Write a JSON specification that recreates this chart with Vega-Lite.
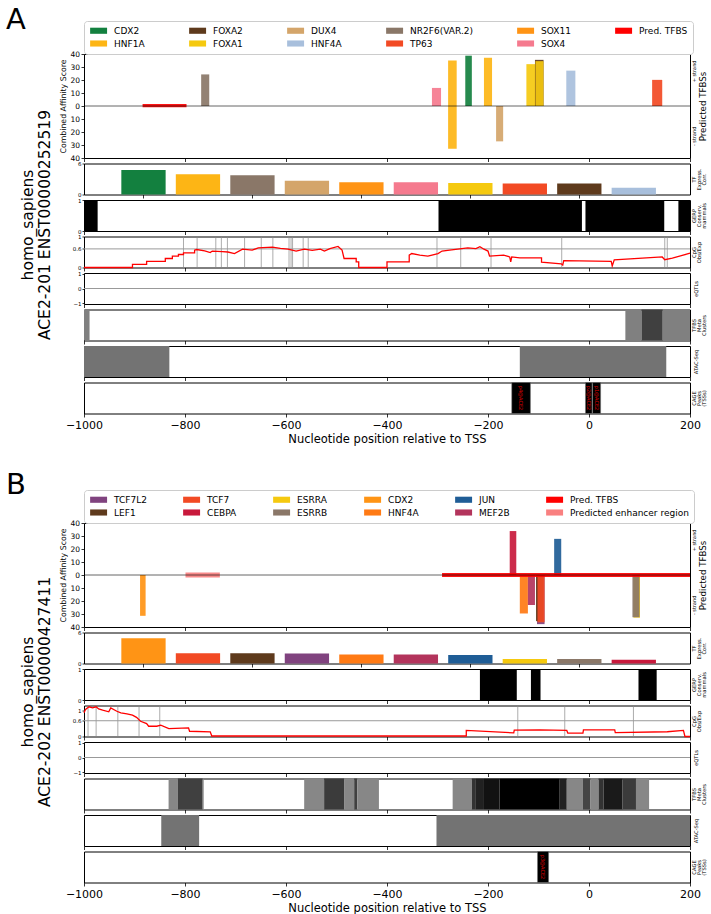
{
"$schema": "https://vega.github.io/schema/vega-lite/v6.json",
"padding": {"left": 5, "top": 5, "right": 2, "bottom": 2},
"config": {
  "font": "DejaVu Sans",
  "view": {"stroke": "black", "strokeWidth": 1},
  "axis": {"domain": false, "grid": false, "tickColor": "black", "tickWidth": 0.8, "labelColor": "black", "titleColor": "black", "titleFontWeight": "normal", "labelFlush": false, "labelOverlap": false},
  "title": {"fontWeight": "normal", "color": "black"}
},
"datasets": {
  "tfbsA": [
    {"tf": "Pred. TFBS", "start": -884, "end": -797, "lo": -1, "hi": 1.5},
    {"tf": "NR2F6(VAR.2)", "start": -768, "end": -752, "lo": 0, "hi": 24.3},
    {"tf": "SOX4", "start": -311, "end": -293, "lo": 0, "hi": 13.9},
    {"tf": "HNF1A", "start": -279, "end": -262, "lo": 0, "hi": 35.0},
    {"tf": "HNF1A", "start": -279, "end": -262, "lo": -32.9, "hi": 0},
    {"tf": "CDX2", "start": -245, "end": -232, "lo": 0, "hi": 38.7},
    {"tf": "HNF1A", "start": -208, "end": -192, "lo": 0, "hi": 37.1},
    {"tf": "DUX4", "start": -184, "end": -170, "lo": -27.2, "hi": 0},
    {"tf": "FOXA1", "start": -124, "end": -106, "lo": 0, "hi": 32.2},
    {"tf": "FOXA2", "start": -107, "end": -90, "lo": 0, "hi": 35.5},
    {"tf": "FOXA1", "start": -106, "end": -90, "lo": 0, "hi": 34.5},
    {"tf": "HNF4A", "start": -45, "end": -27, "lo": 0, "hi": 27.2},
    {"tf": "TP63", "start": 125, "end": 145, "lo": 0, "hi": 20.1}
  ],
  "exprA": [
    {"tf": "CDX2", "rank": 0, "corr": 4.76},
    {"tf": "HNF1A", "rank": 1, "corr": 3.92},
    {"tf": "NR2F6(VAR.2)", "rank": 2, "corr": 3.72},
    {"tf": "DUX4", "rank": 3, "corr": 2.67},
    {"tf": "SOX11", "rank": 4, "corr": 2.35},
    {"tf": "SOX4", "rank": 5, "corr": 2.35},
    {"tf": "FOXA1", "rank": 6, "corr": 2.22},
    {"tf": "TP63", "rank": 7, "corr": 2.15},
    {"tf": "FOXA2", "rank": 8, "corr": 2.15},
    {"tf": "HNF4A", "rank": 9, "corr": 1.3}
  ],
  "gerpA": [
    {"start": -1000, "end": -973}, {"start": -298, "end": -14}, {"start": -7, "end": 149}, {"start": 177, "end": 200}
  ],
  "cpgA": [
    {"pos": -1000, "v": 0}, {"pos": -904, "v": 0}, {"pos": -904, "v": 0.10}, {"pos": -876, "v": 0.10}, {"pos": -876, "v": 0.20},
    {"pos": -839, "v": 0.20}, {"pos": -839, "v": 0.29}, {"pos": -825, "v": 0.29}, {"pos": -825, "v": 0.37}, {"pos": -813, "v": 0.37},
    {"pos": -813, "v": 0.42}, {"pos": -803, "v": 0.42}, {"pos": -803, "v": 0.47}, {"pos": -781, "v": 0.47}, {"pos": -781, "v": 0.56},
    {"pos": -777, "v": 0.58}, {"pos": -761, "v": 0.54}, {"pos": -750, "v": 0.48}, {"pos": -746, "v": 0.53}, {"pos": -726, "v": 0.51},
    {"pos": -715, "v": 0.50}, {"pos": -702, "v": 0.45}, {"pos": -686, "v": 0.59}, {"pos": -667, "v": 0.56}, {"pos": -655, "v": 0.63},
    {"pos": -627, "v": 0.66}, {"pos": -611, "v": 0.62}, {"pos": -596, "v": 0.59}, {"pos": -580, "v": 0.53}, {"pos": -564, "v": 0.59},
    {"pos": -548, "v": 0.55}, {"pos": -532, "v": 0.59}, {"pos": -524, "v": 0.53}, {"pos": -513, "v": 0.61}, {"pos": -497, "v": 0.68},
    {"pos": -489, "v": 0.56}, {"pos": -485, "v": 0.29}, {"pos": -461, "v": 0.29}, {"pos": -461, "v": 0.18}, {"pos": -456, "v": 0.18},
    {"pos": -456, "v": 0}, {"pos": -400, "v": 0}, {"pos": -400, "v": 0.18}, {"pos": -356, "v": 0.18}, {"pos": -356, "v": 0.40},
    {"pos": -351, "v": 0.45}, {"pos": -335, "v": 0.40}, {"pos": -319, "v": 0.37}, {"pos": -299, "v": 0.45}, {"pos": -291, "v": 0.53},
    {"pos": -276, "v": 0.56}, {"pos": -260, "v": 0.59}, {"pos": -240, "v": 0.63}, {"pos": -224, "v": 0.61}, {"pos": -216, "v": 0.67},
    {"pos": -208, "v": 0.59}, {"pos": -200, "v": 0.53}, {"pos": -197, "v": 0.37}, {"pos": -169, "v": 0.40}, {"pos": -157, "v": 0.34},
    {"pos": -155, "v": 0.18}, {"pos": -153, "v": 0.34}, {"pos": -137, "v": 0.31}, {"pos": -94, "v": 0.31}, {"pos": -94, "v": 0.17},
    {"pos": -55, "v": 0.12}, {"pos": -52, "v": 0.08}, {"pos": -50, "v": 0.22}, {"pos": 44, "v": 0.20}, {"pos": 46, "v": 0.05},
    {"pos": 50, "v": 0.25}, {"pos": 145, "v": 0.34}, {"pos": 150, "v": 0.25}, {"pos": 165, "v": 0.30}, {"pos": 200, "v": 0.46}
  ],
  "cpgLinesA": [
    {"pos": -803}, {"pos": -776}, {"pos": -739}, {"pos": -728}, {"pos": -716}, {"pos": -682}, {"pos": -649}, {"pos": -626},
    {"pos": -594}, {"pos": -590}, {"pos": -587}, {"pos": -566}, {"pos": -556}, {"pos": -301}, {"pos": -254}, {"pos": -194},
    {"pos": -54}, {"pos": 150}, {"pos": 155}
  ],
  "metaA": [
    {"start": -1000, "end": -989, "density": 0.5}, {"start": 72, "end": 104, "density": 0.5},
    {"start": 104, "end": 146, "density": 0.75}, {"start": 146, "end": 200, "density": 0.5}
  ],
  "atacA": [{"start": -1000, "end": -831}, {"start": -137, "end": 153}],
  "cageA": [
    {"start": -153, "end": -116, "mid": -134.5, "label": "p4@ACE2"},
    {"start": -7, "end": 6, "mid": -0.5, "label": "p2@ACE2"},
    {"start": 7, "end": 23, "mid": 15, "label": "p1@ACE2"}
  ],
  "tfbsB": [
    {"tf": "CDX2", "start": -889, "end": -878, "lo": -31.4, "hi": 0},
    {"tf": "Predicted enhancer region", "start": -799, "end": -731, "lo": -2, "hi": 2},
    {"tf": "CEBPA", "start": -157, "end": -144, "lo": 0, "hi": 33.8},
    {"tf": "JUN", "start": -69, "end": -55, "lo": 0, "hi": 27.8},
    {"tf": "HNF4A", "start": -137, "end": -121, "lo": -29.6, "hi": 0},
    {"tf": "MEF2B", "start": -121, "end": -107, "lo": -23.1, "hi": 0},
    {"tf": "TCF7L2", "start": -103, "end": -88, "lo": -37.8, "hi": 0},
    {"tf": "LEF1", "start": -105, "end": -91, "lo": -35.5, "hi": 0},
    {"tf": "TCF7", "start": -102, "end": -88, "lo": -36.4, "hi": 0},
    {"tf": "ESRRA", "start": 88, "end": 101, "lo": -32.8, "hi": 0},
    {"tf": "ESRRB", "start": 86, "end": 100, "lo": -32.5, "hi": 0},
    {"tf": "Pred. TFBS", "start": -291, "end": 200, "lo": -1.5, "hi": 1.5}
  ],
  "exprB": [
    {"tf": "CDX2", "rank": 0, "corr": 4.9},
    {"tf": "TCF7", "rank": 1, "corr": 2.0},
    {"tf": "LEF1", "rank": 2, "corr": 2.0},
    {"tf": "TCF7L2", "rank": 3, "corr": 1.95},
    {"tf": "HNF4A", "rank": 4, "corr": 1.75},
    {"tf": "MEF2B", "rank": 5, "corr": 1.75},
    {"tf": "JUN", "rank": 6, "corr": 1.63},
    {"tf": "ESRRA", "rank": 7, "corr": 0.88},
    {"tf": "ESRRB", "rank": 8, "corr": 0.88},
    {"tf": "CEBPA", "rank": 9, "corr": 0.75}
  ],
  "gerpB": [{"start": -216, "end": -143}, {"start": -115, "end": -96}, {"start": 98, "end": 134}],
  "cpgB": [
    {"pos": -1000, "v": 0.90}, {"pos": -997, "v": 1.03}, {"pos": -990, "v": 1.13}, {"pos": -983, "v": 1.09}, {"pos": -976, "v": 1.13},
    {"pos": -971, "v": 1.05}, {"pos": -963, "v": 1.0}, {"pos": -951, "v": 0.94}, {"pos": -947, "v": 1.09}, {"pos": -935, "v": 0.96},
    {"pos": -927, "v": 0.90}, {"pos": -915, "v": 0.86}, {"pos": -904, "v": 0.81}, {"pos": -896, "v": 0.73}, {"pos": -888, "v": 0.58},
    {"pos": -876, "v": 0.49}, {"pos": -872, "v": 0.39}, {"pos": -856, "v": 0.39}, {"pos": -848, "v": 0.43}, {"pos": -832, "v": 0.30},
    {"pos": -793, "v": 0.33}, {"pos": -791, "v": 0.20}, {"pos": -750, "v": 0.18}, {"pos": -747, "v": 0.02}, {"pos": -243, "v": 0.02},
    {"pos": -243, "v": 0.23}, {"pos": -149, "v": 0.14}, {"pos": -148, "v": 0.24}, {"pos": -98, "v": 0.25}, {"pos": -44, "v": 0.23},
    {"pos": -42, "v": 0.13}, {"pos": -12, "v": 0.13}, {"pos": -11, "v": 0.25}, {"pos": 51, "v": 0.25}, {"pos": 52, "v": 0.15},
    {"pos": 155, "v": 0.18}, {"pos": 187, "v": 0.23}, {"pos": 190, "v": 0}, {"pos": 200, "v": 0}
  ],
  "cpgLinesB": [
    {"pos": -992}, {"pos": -976}, {"pos": -933}, {"pos": -891}, {"pos": -850}, {"pos": -141}, {"pos": -48}, {"pos": 88}
  ],
  "metaB": [
    {"start": -832.5, "end": -814, "density": 0.47}, {"start": -814, "end": -765, "density": 0.75}, {"start": -765, "end": -763, "density": 0.47},
    {"start": -564, "end": -524.5, "density": 0.47}, {"start": -524.5, "end": -485, "density": 0.77}, {"start": -485, "end": -465, "density": 0.47},
    {"start": -465, "end": -459, "density": 0.75}, {"start": -459, "end": -416, "density": 0.47},
    {"start": -270, "end": -232, "density": 0.47}, {"start": -232, "end": -224, "density": 0.8}, {"start": -224, "end": -208, "density": 0.87},
    {"start": -208, "end": -177, "density": 0.93}, {"start": -177, "end": -58, "density": 1.0}, {"start": -58, "end": -44, "density": 0.87},
    {"start": -44, "end": -12, "density": 0.47}, {"start": -12, "end": 3, "density": 0.73}, {"start": 3, "end": 19, "density": 0.47},
    {"start": 19, "end": 28.6, "density": 0.8}, {"start": 28.6, "end": 66.5, "density": 0.9}, {"start": 66.5, "end": 93, "density": 0.77},
    {"start": 93, "end": 119, "density": 0.47}
  ],
  "atacB": [{"start": -847, "end": -772}, {"start": -302, "end": 200}],
  "cageB": [{"start": -102, "end": -80, "mid": -91, "label": "p3@ACE2"}]
},
"spacing": 25,
"bounds": "full",
"resolve": {"scale": {"color": "independent", "x": "independent", "y": "independent"}, "legend": {"color": "independent"}},
"vconcat": [
{
  "title": {"text": ["homo_sapiens", "ACE2-201 ENST00000252519"], "orient": "left", "anchor": "middle", "fontSize": 15.5, "lineHeight": 17, "offset": -48},
  "spacing": 5.5,
  "bounds": "flush",
  "resolve": {"scale": {"color": "independent", "x": "independent", "y": "independent"}, "legend": {"color": "independent"}},
  "vconcat": [
    {
      "width": 606, "height": 104,
      "title": {"text": "A", "anchor": "start", "frame": "group", "fontSize": 29, "dx": -78, "offset": -37, "baseline": "alphabetic"},
      "layer": [
        {
          "data": {"name": "tfbsA"},
          "mark": {"type": "rect", "fillOpacity": 0.92},
          "encoding": {
            "x": {"field": "start", "type": "quantitative", "scale": {"domain": [-1000, 200], "nice": false, "zero": false}, "axis": {"values": [-1000, -800, -600, -400, -200, 0, 200], "labels": false, "title": null, "tickSize": 3.5}},
            "x2": {"field": "end"},
            "y": {"field": "lo", "type": "quantitative", "scale": {"domain": [-40, 40], "nice": false}, "axis": {"values": [-40, -30, -20, -10, 0, 10, 20, 30, 40], "labelExpr": "'' + abs(datum.value)", "labelFontSize": 7.5, "tickSize": 3, "labelPadding": 1.5, "title": "Combined Affinity Score", "titleFontSize": 7.8, "titlePadding": 2}},
            "y2": {"field": "hi"},
            "color": {"field": "tf", "type": "nominal",
              "scale": {"domain": ["CDX2", "FOXA2", "DUX4", "NR2F6(VAR.2)", "SOX11", "Pred. TFBS", "HNF1A", "FOXA1", "HNF4A", "TP63", "SOX4"],
                        "range": ["#13803f", "#5e3a1c", "#d4a56a", "#8a7768", "#ff9415", "#ff0000", "#fdb515", "#f5c90f", "#a8bfdc", "#f24a24", "#f57a8e"]},
              "legend": {"orient": "top", "title": null, "columns": 6, "direction": "horizontal", "symbolType": "M-2.5,-0.9H2.5V0.9H-2.5Z", "symbolSize": 46, "symbolOffset": 5.1, "symbolStrokeWidth": 0, "symbolOpacity": 1, "labelFontSize": 9, "labelOffset": 11, "columnPadding": 43, "rowPadding": 3, "padding": 5, "strokeColor": "#cccccc", "fillColor": "white", "cornerRadius": 3, "offset": 0, "gridAlign": "each", "labelLimit": 300}
            }
          }
        },
        {
          "data": {"values": [{}]},
          "mark": {"type": "rule", "color": "black", "opacity": 0.6, "strokeWidth": 1},
          "encoding": {"y": {"datum": 0, "type": "quantitative", "scale": {"domain": [-40, 40], "nice": false},
            "axis": {"orient": "right", "values": [27, -23], "labelExpr": "datum.value > 0 ? '+ strand' : '- strand'", "labelAngle": 270, "labelAlign": "center", "labelBaseline": "top", "labelFontSize": 5, "labelPadding": 1.5, "ticks": false, "tickSize": 0, "title": "Predicted TFBSs", "titleFontSize": 8.7, "titleAngle": 270, "titleBaseline": "top", "titlePadding": 2}}}
        }
      ],
      "resolve": {"scale": {"y": "independent"}, "axis": {"y": "independent"}}
    },
    {
      "width": 606, "height": 31,
      "layer": [
        {
          "data": {"name": "exprA"},
          "mark": {"type": "bar", "orient": "vertical", "size": 44.3},
          "encoding": {
            "x": {"field": "rank", "type": "quantitative", "scale": {"domain": [-1, 9.94], "nice": false, "zero": false}, "axis": {"values": [0, 2, 4, 6, 8], "labels": false, "title": null, "tickSize": 3.5}},
            "y": {"field": "corr", "type": "quantitative", "scale": {"domain": [0, 6], "nice": false}, "axis": {"values": [0, 6], "format": "~g", "labelFontSize": 5.5, "tickSize": 2, "labelPadding": 1, "title": null}},
            "color": {"field": "tf", "type": "nominal",
              "scale": {"domain": ["CDX2", "FOXA2", "DUX4", "NR2F6(VAR.2)", "SOX11", "Pred. TFBS", "HNF1A", "FOXA1", "HNF4A", "TP63", "SOX4"],
                        "range": ["#13803f", "#5e3a1c", "#d4a56a", "#8a7768", "#ff9415", "#ff0000", "#fdb515", "#f5c90f", "#a8bfdc", "#f24a24", "#f57a8e"]},
              "legend": null}
          }
        },
        {
          "data": {"values": [{}]},
          "mark": {"type": "rule", "opacity": 0},
          "encoding": {"y": {"datum": 0.5, "type": "quantitative", "scale": {"domain": [0, 1]}, "axis": {"orient": "right", "labels": false, "ticks": false, "tickSize": 0, "labelPadding": 0, "title": ["TF", "Express.", "Corr."], "titleFontSize": 5.2, "titleLineHeight": 5.3, "titleAngle": 270, "titleBaseline": "top", "titlePadding": -9.5}}}
        }
      ],
      "resolve": {"scale": {"y": "independent"}, "axis": {"y": "independent"}}
    },
    {
      "width": 606, "height": 31,
      "layer": [
        {
          "data": {"name": "gerpA"},
          "mark": {"type": "rect", "color": "black"},
          "encoding": {
            "x": {"field": "start", "type": "quantitative", "scale": {"domain": [-1000, 200], "nice": false, "zero": false}, "axis": {"values": [-1000, -800, -600, -400, -200, 0, 200], "labels": false, "title": null, "tickSize": 3.5}},
            "x2": {"field": "end"},
            "y": {"datum": 0, "type": "quantitative", "scale": {"domain": [0, 1], "nice": false}, "axis": {"values": [0, 1], "format": "~g", "labelFontSize": 5.5, "tickSize": 2, "labelPadding": 1, "title": null}},
            "y2": {"datum": 1}
          }
        },
        {
          "data": {"values": [{}]},
          "mark": {"type": "rule", "opacity": 0},
          "encoding": {"y": {"datum": 0.5, "type": "quantitative", "scale": {"domain": [0, 1]}, "axis": {"orient": "right", "labels": false, "ticks": false, "tickSize": 0, "labelPadding": 0, "title": ["GERP", "Conserv.", "mammals"], "titleFontSize": 5.2, "titleLineHeight": 5.3, "titleAngle": 270, "titleBaseline": "top", "titlePadding": -9.5}}}
        }
      ],
      "resolve": {"scale": {"y": "independent"}, "axis": {"y": "independent"}}
    },
    {
      "width": 606, "height": 31,
      "layer": [
        {
          "data": {"name": "cpgLinesA"},
          "mark": {"type": "rule", "color": "#888888", "strokeWidth": 0.7},
          "encoding": {"x": {"field": "pos", "type": "quantitative", "scale": {"domain": [-1000, 200], "nice": false, "zero": false}, "axis": {"values": [-1000, -800, -600, -400, -200, 0, 200], "labels": false, "title": null, "tickSize": 3.5}}}
        },
        {
          "data": {"values": [{}]},
          "mark": {"type": "rule", "color": "#999999", "strokeWidth": 1},
          "encoding": {"y": {"datum": 0.6, "type": "quantitative", "scale": {"domain": [0, 1], "nice": false}, "axis": {"values": [0, 0.6, 1], "format": "~g", "labelFontSize": 5.5, "tickSize": 2, "labelPadding": 1, "title": null}}}
        },
        {
          "data": {"name": "cpgA"},
          "mark": {"type": "line", "color": "#ff0000", "strokeWidth": 1.3},
          "encoding": {
            "x": {"field": "pos", "type": "quantitative"},
            "y": {"field": "v", "type": "quantitative", "scale": {"domain": [0, 1], "nice": false}, "axis": null},
            "order": {"value": null}
          }
        },
        {
          "data": {"values": [{}]},
          "mark": {"type": "rule", "opacity": 0},
          "encoding": {"y": {"datum": 0.5, "type": "quantitative", "scale": {"domain": [0, 1]}, "axis": {"orient": "right", "labels": false, "ticks": false, "tickSize": 0, "labelPadding": 0, "title": ["CpG", "Obs/Exp"], "titleFontSize": 5.2, "titleLineHeight": 5.3, "titleAngle": 270, "titleBaseline": "top", "titlePadding": -4.3}}}
        }
      ],
      "resolve": {"scale": {"y": "independent"}, "axis": {"y": "independent"}}
    },
    {
      "width": 606, "height": 31,
      "layer": [
        {
          "data": {"values": [{}]},
          "mark": {"type": "rule", "color": "#999999", "strokeWidth": 1.2},
          "encoding": {
            "x": {"datum": -1000, "type": "quantitative", "scale": {"domain": [-1000, 200], "nice": false, "zero": false}, "axis": {"values": [-1000, -800, -600, -400, -200, 0, 200], "labels": false, "title": null, "tickSize": 3.5}},
            "x2": {"datum": 200},
            "y": {"datum": 0, "type": "quantitative", "scale": {"domain": [-1.05, 1.05], "nice": false}, "axis": {"values": [-1, 0, 1], "format": "~g", "labelFontSize": 5.5, "tickSize": 2, "labelPadding": 1, "title": null}}
          }
        },
        {
          "data": {"values": [{}]},
          "mark": {"type": "rule", "opacity": 0},
          "encoding": {"y": {"datum": 0.5, "type": "quantitative", "scale": {"domain": [0, 1]}, "axis": {"orient": "right", "labels": false, "ticks": false, "tickSize": 0, "labelPadding": 0, "title": "eQTLs", "titleFontSize": 5.2, "titleLineHeight": 5.3, "titleAngle": 270, "titleBaseline": "top", "titlePadding": 3}}}
        }
      ],
      "resolve": {"scale": {"y": "independent"}, "axis": {"y": "independent"}}
    },
    {
      "width": 606, "height": 31,
      "data": {"name": "metaA"},
      "mark": {"type": "rect"},
      "encoding": {
        "x": {"field": "start", "type": "quantitative", "scale": {"domain": [-1000, 200], "nice": false, "zero": false}, "axis": {"values": [-1000, -800, -600, -400, -200, 0, 200], "labels": false, "title": null, "tickSize": 3.5}},
        "x2": {"field": "end"},
        "y": {"datum": 0, "type": "quantitative", "scale": {"domain": [0, 1], "nice": false}, "axis": {"orient": "right", "labels": false, "ticks": false, "tickSize": 0, "labelPadding": 0, "title": ["TFBS", "Meta", "Clusters"], "titleFontSize": 5.2, "titleLineHeight": 5.3, "titleAngle": 270, "titleBaseline": "top", "titlePadding": -9.5}},
        "y2": {"datum": 1},
        "color": {"field": "density", "type": "quantitative", "scale": {"domain": [0, 1], "range": ["#ffffff", "#000000"], "interpolate": "rgb"}, "legend": null}
      }
    },
    {
      "width": 606, "height": 31,
      "data": {"name": "atacA"},
      "mark": {"type": "rect", "color": "#737373"},
      "encoding": {
        "x": {"field": "start", "type": "quantitative", "scale": {"domain": [-1000, 200], "nice": false, "zero": false}, "axis": {"values": [-1000, -800, -600, -400, -200, 0, 200], "labels": false, "title": null, "tickSize": 3.5}},
        "x2": {"field": "end"},
        "y": {"datum": 0, "type": "quantitative", "scale": {"domain": [0, 1], "nice": false}, "axis": {"orient": "right", "labels": false, "ticks": false, "tickSize": 0, "labelPadding": 0, "title": "ATAC-Seq", "titleFontSize": 5.2, "titleLineHeight": 5.3, "titleAngle": 270, "titleBaseline": "top", "titlePadding": 3}},
        "y2": {"datum": 1}
      }
    },
    {
      "width": 606, "height": 31,
      "data": {"name": "cageA"},
      "layer": [
        {
          "mark": {"type": "rect", "color": "black", "stroke": "#777777", "strokeWidth": 0.5},
          "encoding": {
            "x": {"field": "start", "type": "quantitative", "scale": {"domain": [-1000, 200], "nice": false, "zero": false}, "axis": {"values": [-1000, -800, -600, -400, -200, 0, 200], "format": "d", "title": "Nucleotide position relative to TSS", "labelFontSize": 11, "titleFontSize": 11.5, "tickSize": 3.5, "labelPadding": 2, "titlePadding": 3}},
            "x2": {"field": "end"},
            "y": {"datum": 0, "type": "quantitative", "scale": {"domain": [0, 1], "nice": false}, "axis": {"orient": "right", "labels": false, "ticks": false, "tickSize": 0, "labelPadding": 0, "title": ["CAGE", "Peaks", "(TSSs)"], "titleFontSize": 5.2, "titleLineHeight": 5.3, "titleAngle": 270, "titleBaseline": "top", "titlePadding": -9.5}},
            "y2": {"datum": 1}
          }
        },
        {
          "mark": {"type": "text", "angle": 90, "fontSize": 5, "color": "#e00000"},
          "encoding": {
            "x": {"field": "mid", "type": "quantitative"},
            "y": {"datum": 0.5, "type": "quantitative"},
            "text": {"field": "label"}
          }
        }
      ]
    }
  ]
},
{
  "title": {"text": ["homo_sapiens", "ACE2-202 ENST00000427411"], "orient": "left", "anchor": "middle", "fontSize": 15.5, "lineHeight": 17, "offset": -48},
  "spacing": 5.5,
  "bounds": "flush",
  "resolve": {"scale": {"color": "independent", "x": "independent", "y": "independent"}, "legend": {"color": "independent"}},
  "vconcat": [
    {
      "width": 606, "height": 104,
      "title": {"text": "B", "anchor": "start", "frame": "group", "fontSize": 29, "dx": -78, "offset": -33, "baseline": "alphabetic"},
      "layer": [
        {
          "data": {"name": "tfbsB"},
          "mark": {"type": "rect", "fillOpacity": 0.92},
          "encoding": {
            "x": {"field": "start", "type": "quantitative", "scale": {"domain": [-1000, 200], "nice": false, "zero": false}, "axis": {"values": [-1000, -800, -600, -400, -200, 0, 200], "labels": false, "title": null, "tickSize": 3.5}},
            "x2": {"field": "end"},
            "y": {"field": "lo", "type": "quantitative", "scale": {"domain": [-40, 40], "nice": false}, "axis": {"values": [-40, -30, -20, -10, 0, 10, 20, 30, 40], "labelExpr": "'' + abs(datum.value)", "labelFontSize": 7.5, "tickSize": 3, "labelPadding": 1.5, "title": "Combined Affinity Score", "titleFontSize": 7.8, "titlePadding": 2}},
            "y2": {"field": "hi"},
            "color": {"field": "tf", "type": "nominal",
              "scale": {"domain": ["TCF7L2", "TCF7", "ESRRA", "CDX2", "JUN", "Pred. TFBS", "LEF1", "CEBPA", "ESRRB", "HNF4A", "MEF2B", "Predicted enhancer region"],
                        "range": ["#80437f", "#f24a24", "#f5c90f", "#ff9415", "#1f5d96", "#ff0000", "#5e3a1c", "#c8193c", "#8a7768", "#ff7a14", "#b3345c", "#f98080"]},
              "legend": {"orient": "top", "title": null, "columns": 6, "direction": "horizontal", "symbolType": "M-2.5,-0.9H2.5V0.9H-2.5Z", "symbolSize": 46, "symbolOffset": 5.1, "symbolStrokeWidth": 0, "symbolOpacity": 1, "labelFontSize": 9, "labelOffset": 11, "columnPadding": 35, "rowPadding": 3, "padding": 5, "strokeColor": "#cccccc", "fillColor": "white", "cornerRadius": 3, "offset": 0, "gridAlign": "each", "labelLimit": 300}
            }
          }
        },
        {
          "data": {"values": [{}]},
          "mark": {"type": "rule", "color": "black", "opacity": 0.6, "strokeWidth": 1},
          "encoding": {"y": {"datum": 0, "type": "quantitative", "scale": {"domain": [-40, 40], "nice": false},
            "axis": {"orient": "right", "values": [27, -23], "labelExpr": "datum.value > 0 ? '+ strand' : '- strand'", "labelAngle": 270, "labelAlign": "center", "labelBaseline": "top", "labelFontSize": 5, "labelPadding": 1.5, "ticks": false, "tickSize": 0, "title": "Predicted TFBSs", "titleFontSize": 8.7, "titleAngle": 270, "titleBaseline": "top", "titlePadding": 2}}}
        }
      ],
      "resolve": {"scale": {"y": "independent"}, "axis": {"y": "independent"}}
    },
    {
      "width": 606, "height": 31,
      "layer": [
        {
          "data": {"name": "exprB"},
          "mark": {"type": "bar", "orient": "vertical", "size": 44.3},
          "encoding": {
            "x": {"field": "rank", "type": "quantitative", "scale": {"domain": [-1, 9.94], "nice": false, "zero": false}, "axis": {"values": [0, 2, 4, 6, 8], "labels": false, "title": null, "tickSize": 3.5}},
            "y": {"field": "corr", "type": "quantitative", "scale": {"domain": [0, 6], "nice": false}, "axis": {"values": [0, 6], "format": "~g", "labelFontSize": 5.5, "tickSize": 2, "labelPadding": 1, "title": null}},
            "color": {"field": "tf", "type": "nominal",
              "scale": {"domain": ["TCF7L2", "TCF7", "ESRRA", "CDX2", "JUN", "Pred. TFBS", "LEF1", "CEBPA", "ESRRB", "HNF4A", "MEF2B", "Predicted enhancer region"],
                        "range": ["#80437f", "#f24a24", "#f5c90f", "#ff9415", "#1f5d96", "#ff0000", "#5e3a1c", "#c8193c", "#8a7768", "#ff7a14", "#b3345c", "#f98080"]},
              "legend": null}
          }
        },
        {
          "data": {"values": [{}]},
          "mark": {"type": "rule", "opacity": 0},
          "encoding": {"y": {"datum": 0.5, "type": "quantitative", "scale": {"domain": [0, 1]}, "axis": {"orient": "right", "labels": false, "ticks": false, "tickSize": 0, "labelPadding": 0, "title": ["TF", "Express.", "Corr."], "titleFontSize": 5.2, "titleLineHeight": 5.3, "titleAngle": 270, "titleBaseline": "top", "titlePadding": -9.5}}}
        }
      ],
      "resolve": {"scale": {"y": "independent"}, "axis": {"y": "independent"}}
    },
    {
      "width": 606, "height": 31,
      "layer": [
        {
          "data": {"name": "gerpB"},
          "mark": {"type": "rect", "color": "black"},
          "encoding": {
            "x": {"field": "start", "type": "quantitative", "scale": {"domain": [-1000, 200], "nice": false, "zero": false}, "axis": {"values": [-1000, -800, -600, -400, -200, 0, 200], "labels": false, "title": null, "tickSize": 3.5}},
            "x2": {"field": "end"},
            "y": {"datum": 0, "type": "quantitative", "scale": {"domain": [0, 1], "nice": false}, "axis": {"values": [0, 1], "format": "~g", "labelFontSize": 5.5, "tickSize": 2, "labelPadding": 1, "title": null}},
            "y2": {"datum": 1}
          }
        },
        {
          "data": {"values": [{}]},
          "mark": {"type": "rule", "opacity": 0},
          "encoding": {"y": {"datum": 0.5, "type": "quantitative", "scale": {"domain": [0, 1]}, "axis": {"orient": "right", "labels": false, "ticks": false, "tickSize": 0, "labelPadding": 0, "title": ["GERP", "Conserv.", "mammals"], "titleFontSize": 5.2, "titleLineHeight": 5.3, "titleAngle": 270, "titleBaseline": "top", "titlePadding": -9.5}}}
        }
      ],
      "resolve": {"scale": {"y": "independent"}, "axis": {"y": "independent"}}
    },
    {
      "width": 606, "height": 31,
      "layer": [
        {
          "data": {"name": "cpgLinesB"},
          "mark": {"type": "rule", "color": "#888888", "strokeWidth": 0.7},
          "encoding": {"x": {"field": "pos", "type": "quantitative", "scale": {"domain": [-1000, 200], "nice": false, "zero": false}, "axis": {"values": [-1000, -800, -600, -400, -200, 0, 200], "labels": false, "title": null, "tickSize": 3.5}}}
        },
        {
          "data": {"values": [{}]},
          "mark": {"type": "rule", "color": "#999999", "strokeWidth": 1},
          "encoding": {"y": {"datum": 0.6, "type": "quantitative", "scale": {"domain": [0, 1.18], "nice": false}, "axis": {"values": [0, 0.6, 1], "format": "~g", "labelFontSize": 5.5, "tickSize": 2, "labelPadding": 1, "title": null}}}
        },
        {
          "data": {"name": "cpgB"},
          "mark": {"type": "line", "color": "#ff0000", "strokeWidth": 1.3},
          "encoding": {
            "x": {"field": "pos", "type": "quantitative"},
            "y": {"field": "v", "type": "quantitative", "scale": {"domain": [0, 1.18], "nice": false}, "axis": null},
            "order": {"value": null}
          }
        },
        {
          "data": {"values": [{}]},
          "mark": {"type": "rule", "opacity": 0},
          "encoding": {"y": {"datum": 0.5, "type": "quantitative", "scale": {"domain": [0, 1]}, "axis": {"orient": "right", "labels": false, "ticks": false, "tickSize": 0, "labelPadding": 0, "title": ["CpG", "Obs/Exp"], "titleFontSize": 5.2, "titleLineHeight": 5.3, "titleAngle": 270, "titleBaseline": "top", "titlePadding": -4.3}}}
        }
      ],
      "resolve": {"scale": {"y": "independent"}, "axis": {"y": "independent"}}
    },
    {
      "width": 606, "height": 31,
      "layer": [
        {
          "data": {"values": [{}]},
          "mark": {"type": "rule", "color": "#999999", "strokeWidth": 1.2},
          "encoding": {
            "x": {"datum": -1000, "type": "quantitative", "scale": {"domain": [-1000, 200], "nice": false, "zero": false}, "axis": {"values": [-1000, -800, -600, -400, -200, 0, 200], "labels": false, "title": null, "tickSize": 3.5}},
            "x2": {"datum": 200},
            "y": {"datum": 0, "type": "quantitative", "scale": {"domain": [-1.05, 1.05], "nice": false}, "axis": {"values": [-1, 0, 1], "format": "~g", "labelFontSize": 5.5, "tickSize": 2, "labelPadding": 1, "title": null}}
          }
        },
        {
          "data": {"values": [{}]},
          "mark": {"type": "rule", "opacity": 0},
          "encoding": {"y": {"datum": 0.5, "type": "quantitative", "scale": {"domain": [0, 1]}, "axis": {"orient": "right", "labels": false, "ticks": false, "tickSize": 0, "labelPadding": 0, "title": "eQTLs", "titleFontSize": 5.2, "titleLineHeight": 5.3, "titleAngle": 270, "titleBaseline": "top", "titlePadding": 3}}}
        }
      ],
      "resolve": {"scale": {"y": "independent"}, "axis": {"y": "independent"}}
    },
    {
      "width": 606, "height": 31,
      "data": {"name": "metaB"},
      "mark": {"type": "rect"},
      "encoding": {
        "x": {"field": "start", "type": "quantitative", "scale": {"domain": [-1000, 200], "nice": false, "zero": false}, "axis": {"values": [-1000, -800, -600, -400, -200, 0, 200], "labels": false, "title": null, "tickSize": 3.5}},
        "x2": {"field": "end"},
        "y": {"datum": 0, "type": "quantitative", "scale": {"domain": [0, 1], "nice": false}, "axis": {"orient": "right", "labels": false, "ticks": false, "tickSize": 0, "labelPadding": 0, "title": ["TFBS", "Meta", "Clusters"], "titleFontSize": 5.2, "titleLineHeight": 5.3, "titleAngle": 270, "titleBaseline": "top", "titlePadding": -9.5}},
        "y2": {"datum": 1},
        "color": {"field": "density", "type": "quantitative", "scale": {"domain": [0, 1], "range": ["#ffffff", "#000000"], "interpolate": "rgb"}, "legend": null}
      }
    },
    {
      "width": 606, "height": 31,
      "data": {"name": "atacB"},
      "mark": {"type": "rect", "color": "#737373"},
      "encoding": {
        "x": {"field": "start", "type": "quantitative", "scale": {"domain": [-1000, 200], "nice": false, "zero": false}, "axis": {"values": [-1000, -800, -600, -400, -200, 0, 200], "labels": false, "title": null, "tickSize": 3.5}},
        "x2": {"field": "end"},
        "y": {"datum": 0, "type": "quantitative", "scale": {"domain": [0, 1], "nice": false}, "axis": {"orient": "right", "labels": false, "ticks": false, "tickSize": 0, "labelPadding": 0, "title": "ATAC-Seq", "titleFontSize": 5.2, "titleLineHeight": 5.3, "titleAngle": 270, "titleBaseline": "top", "titlePadding": 3}},
        "y2": {"datum": 1}
      }
    },
    {
      "width": 606, "height": 31,
      "data": {"name": "cageB"},
      "layer": [
        {
          "mark": {"type": "rect", "color": "black", "stroke": "#777777", "strokeWidth": 0.5},
          "encoding": {
            "x": {"field": "start", "type": "quantitative", "scale": {"domain": [-1000, 200], "nice": false, "zero": false}, "axis": {"values": [-1000, -800, -600, -400, -200, 0, 200], "format": "d", "title": "Nucleotide position relative to TSS", "labelFontSize": 11, "titleFontSize": 11.5, "tickSize": 3.5, "labelPadding": 2, "titlePadding": 3}},
            "x2": {"field": "end"},
            "y": {"datum": 0, "type": "quantitative", "scale": {"domain": [0, 1], "nice": false}, "axis": {"orient": "right", "labels": false, "ticks": false, "tickSize": 0, "labelPadding": 0, "title": ["CAGE", "Peaks", "(TSSs)"], "titleFontSize": 5.2, "titleLineHeight": 5.3, "titleAngle": 270, "titleBaseline": "top", "titlePadding": -9.5}},
            "y2": {"datum": 1}
          }
        },
        {
          "mark": {"type": "text", "angle": 90, "fontSize": 5, "color": "#e00000"},
          "encoding": {
            "x": {"field": "mid", "type": "quantitative"},
            "y": {"datum": 0.5, "type": "quantitative"},
            "text": {"field": "label"}
          }
        }
      ]
    }
  ]
}
]
}
